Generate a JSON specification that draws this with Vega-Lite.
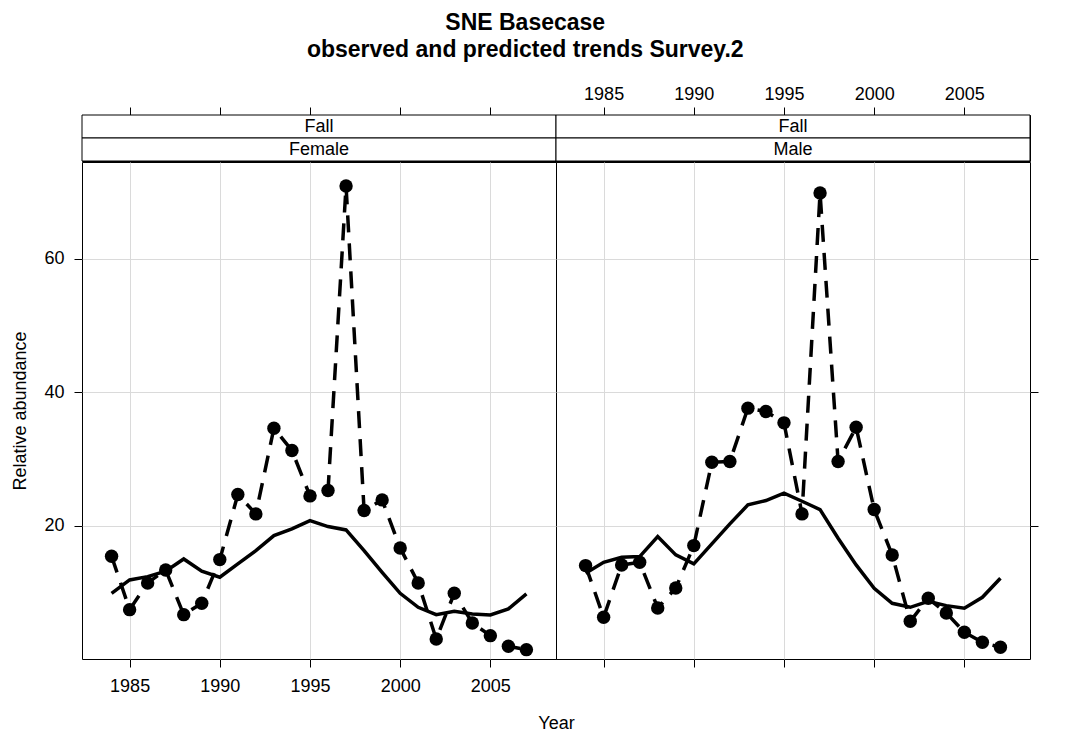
{
  "$schema": "https://vega.github.io/schema/vega-lite/v6.json",
  "background": "white",
  "padding": {"left": 11, "top": 11, "right": 5, "bottom": 5},
  "title": {
    "text": ["SNE Basecase", "observed and predicted trends Survey.2"],
    "font": "Liberation Sans",
    "fontSize": 23,
    "fontWeight": "bold",
    "color": "black",
    "anchor": "middle",
    "lineHeight": 27,
    "offset": 23
  },
  "config": {
    "font": "Liberation Sans",
    "view": {"stroke": "black", "strokeWidth": 1},
    "axis": {
      "labelFont": "Liberation Sans",
      "labelFontSize": 18,
      "labelColor": "black",
      "titleFont": "Liberation Sans",
      "titleFontSize": 18,
      "titleFontWeight": "normal",
      "titleColor": "black",
      "tickColor": "black",
      "tickSize": 8,
      "domain": false,
      "gridColor": "#dadada",
      "gridWidth": 1
    }
  },
  "datasets": {
    "trend": [
      {"sex": "Female", "year": 1984, "obs": 15.4, "pred": 9.85},
      {"sex": "Female", "year": 1985, "obs": 7.4, "pred": 11.85},
      {"sex": "Female", "year": 1986, "obs": 11.4, "pred": 12.35},
      {"sex": "Female", "year": 1987, "obs": 13.35, "pred": 13.15},
      {"sex": "Female", "year": 1988, "obs": 6.65, "pred": 15.0},
      {"sex": "Female", "year": 1989, "obs": 8.35, "pred": 13.15},
      {"sex": "Female", "year": 1990, "obs": 14.9, "pred": 12.25},
      {"sex": "Female", "year": 1991, "obs": 24.65, "pred": 14.25},
      {"sex": "Female", "year": 1992, "obs": 21.75, "pred": 16.25},
      {"sex": "Female", "year": 1993, "obs": 34.6, "pred": 18.5},
      {"sex": "Female", "year": 1994, "obs": 31.25, "pred": 19.5},
      {"sex": "Female", "year": 1995, "obs": 24.45, "pred": 20.75},
      {"sex": "Female", "year": 1996, "obs": 25.25, "pred": 19.85},
      {"sex": "Female", "year": 1997, "obs": 70.9, "pred": 19.35},
      {"sex": "Female", "year": 1998, "obs": 22.25, "pred": 16.25},
      {"sex": "Female", "year": 1999, "obs": 23.85, "pred": 13.0},
      {"sex": "Female", "year": 2000, "obs": 16.65, "pred": 9.85},
      {"sex": "Female", "year": 2001, "obs": 11.4, "pred": 7.75},
      {"sex": "Female", "year": 2002, "obs": 3.0, "pred": 6.65},
      {"sex": "Female", "year": 2003, "obs": 9.85, "pred": 7.15},
      {"sex": "Female", "year": 2004, "obs": 5.4, "pred": 6.75},
      {"sex": "Female", "year": 2005, "obs": 3.5, "pred": 6.6},
      {"sex": "Female", "year": 2006, "obs": 1.9, "pred": 7.5},
      {"sex": "Female", "year": 2007, "obs": 1.4, "pred": 9.75},
      {"sex": "Male", "year": 1984, "obs": 14.0, "pred": 12.85},
      {"sex": "Male", "year": 1985, "obs": 6.25, "pred": 14.5},
      {"sex": "Male", "year": 1986, "obs": 14.1, "pred": 15.25},
      {"sex": "Male", "year": 1987, "obs": 14.5, "pred": 15.35},
      {"sex": "Male", "year": 1988, "obs": 7.65, "pred": 18.35},
      {"sex": "Male", "year": 1989, "obs": 10.65, "pred": 15.6},
      {"sex": "Male", "year": 1990, "obs": 17.0, "pred": 14.25},
      {"sex": "Male", "year": 1991, "obs": 29.5, "pred": 17.25},
      {"sex": "Male", "year": 1992, "obs": 29.6, "pred": 20.25},
      {"sex": "Male", "year": 1993, "obs": 37.6, "pred": 23.1},
      {"sex": "Male", "year": 1994, "obs": 37.1, "pred": 23.75},
      {"sex": "Male", "year": 1995, "obs": 35.4, "pred": 24.85},
      {"sex": "Male", "year": 1996, "obs": 21.75, "pred": 23.65},
      {"sex": "Male", "year": 1997, "obs": 69.85, "pred": 22.4},
      {"sex": "Male", "year": 1998, "obs": 29.6, "pred": 18.1},
      {"sex": "Male", "year": 1999, "obs": 34.75, "pred": 14.1},
      {"sex": "Male", "year": 2000, "obs": 22.4, "pred": 10.6},
      {"sex": "Male", "year": 2001, "obs": 15.6, "pred": 8.35},
      {"sex": "Male", "year": 2002, "obs": 5.65, "pred": 7.75},
      {"sex": "Male", "year": 2003, "obs": 9.1, "pred": 8.65},
      {"sex": "Male", "year": 2004, "obs": 6.9, "pred": 8.0},
      {"sex": "Male", "year": 2005, "obs": 4.0, "pred": 7.6},
      {"sex": "Male", "year": 2006, "obs": 2.5, "pred": 9.25},
      {"sex": "Male", "year": 2007, "obs": 1.75, "pred": 12.1}
    ],
    "stripF": [
      {"row": "1", "label": "Fall"},
      {"row": "2", "label": "Female"}
    ],
    "stripM": [
      {"row": "1", "label": "Fall"},
      {"row": "2", "label": "Male"}
    ]
  },
  "spacing": -2,
  "vconcat": [
    {
      "spacing": 0,
      "bounds": "flush",
      "hconcat": [
        {
          "width": 474,
          "height": 46,
          "layer": [
            {
              "data": {"name": "stripF"},
              "mark": {"type": "rect", "fill": "white", "stroke": "black", "strokeWidth": 1},
              "encoding": {
                "y": {"field": "row", "type": "ordinal", "axis": null, "scale": {"paddingInner": 0, "paddingOuter": 0}}
              }
            },
            {
              "data": {"name": "stripF"},
              "mark": {"type": "text", "fontSize": 18, "font": "Liberation Sans", "color": "black"},
              "encoding": {
                "y": {"field": "row", "type": "ordinal", "axis": null},
                "text": {"field": "label"}
              }
            },
            {
              "data": {"name": "trend"},
              "mark": {"type": "point", "opacity": 0},
              "encoding": {
                "x": {
                  "field": "year", "type": "quantitative",
                  "scale": {"domain": [1982.36, 2008.64], "nice": false, "zero": false},
                  "axis": {"orient": "top", "values": [1985, 1990, 1995, 2000, 2005], "labels": false, "grid": false, "title": null}
                }
              }
            }
          ]
        },
        {
          "width": 474,
          "height": 46,
          "layer": [
            {
              "data": {"name": "stripM"},
              "mark": {"type": "rect", "fill": "white", "stroke": "black", "strokeWidth": 1},
              "encoding": {
                "y": {"field": "row", "type": "ordinal", "axis": null, "scale": {"paddingInner": 0, "paddingOuter": 0}}
              }
            },
            {
              "data": {"name": "stripM"},
              "mark": {"type": "text", "fontSize": 18, "font": "Liberation Sans", "color": "black"},
              "encoding": {
                "y": {"field": "row", "type": "ordinal", "axis": null},
                "text": {"field": "label"}
              }
            },
            {
              "data": {"name": "trend"},
              "mark": {"type": "point", "opacity": 0},
              "encoding": {
                "x": {
                  "field": "year", "type": "quantitative",
                  "scale": {"domain": [1982.36, 2008.64], "nice": false, "zero": false},
                  "axis": {"orient": "top", "values": [1985, 1990, 1995, 2000, 2005], "format": "d", "labels": true, "labelPadding": 4, "grid": false, "title": null}
                }
              }
            }
          ]
        }
      ]
    },
    {
      "spacing": 0,
      "bounds": "flush",
      "hconcat": [
        {
          "width": 474,
          "height": 497,
          "data": {"name": "trend"},
          "transform": [{"filter": "datum.sex === 'Female'"}],
          "encoding": {
            "x": {
              "field": "year", "type": "quantitative",
              "scale": {"domain": [1982.36, 2008.64], "nice": false, "zero": false},
              "axis": {"orient": "bottom", "values": [1985, 1990, 1995, 2000, 2005], "format": "d", "grid": true, "labelPadding": 10, "title": "Year", "titleX": 474, "titleY": 55, "titleAnchor": "middle"}
            }
          },
          "layer": [
            {
              "mark": {"type": "line", "color": "black", "strokeWidth": 3.5},
              "encoding": {
                "y": {"field": "pred", "type": "quantitative", "scale": {"domain": [0, 74.5], "nice": false, "zero": false},
                  "axis": {"orient": "left", "values": [20, 40, 60], "grid": true, "title": "Relative abundance", "labelPadding": 10, "titlePadding": 14}}
              }
            },
            {
              "mark": {"type": "line", "color": "black", "strokeWidth": 3.5, "strokeDash": [17, 11]},
              "encoding": {
                "y": {"field": "obs", "type": "quantitative", "scale": {"domain": [0, 74.5], "nice": false, "zero": false},
                  "axis": {"orient": "left", "values": [20, 40, 60], "grid": true, "title": "Relative abundance", "labelPadding": 10, "titlePadding": 14}}
              }
            },
            {
              "mark": {"type": "point", "filled": true, "color": "black", "opacity": 1, "size": 180},
              "encoding": {
                "y": {"field": "obs", "type": "quantitative", "scale": {"domain": [0, 74.5], "nice": false, "zero": false},
                  "axis": {"orient": "left", "values": [20, 40, 60], "grid": true, "title": "Relative abundance", "labelPadding": 10, "titlePadding": 14}}
              }
            }
          ]
        },
        {
          "width": 474,
          "height": 497,
          "data": {"name": "trend"},
          "transform": [{"filter": "datum.sex === 'Male'"}],
          "encoding": {
            "x": {
              "field": "year", "type": "quantitative",
              "scale": {"domain": [1982.36, 2008.64], "nice": false, "zero": false},
              "axis": {"orient": "bottom", "values": [1985, 1990, 1995, 2000, 2005], "labels": false, "grid": true, "title": null}
            }
          },
          "layer": [
            {
              "mark": {"type": "line", "color": "black", "strokeWidth": 3.5},
              "encoding": {
                "y": {"field": "pred", "type": "quantitative", "scale": {"domain": [0, 74.5], "nice": false, "zero": false},
                  "axis": {"orient": "right", "values": [20, 40, 60], "grid": true, "labels": false, "title": null}}
              }
            },
            {
              "mark": {"type": "line", "color": "black", "strokeWidth": 3.5, "strokeDash": [17, 11]},
              "encoding": {
                "y": {"field": "obs", "type": "quantitative", "scale": {"domain": [0, 74.5], "nice": false, "zero": false},
                  "axis": {"orient": "right", "values": [20, 40, 60], "grid": true, "labels": false, "title": null}}
              }
            },
            {
              "mark": {"type": "point", "filled": true, "color": "black", "opacity": 1, "size": 180},
              "encoding": {
                "y": {"field": "obs", "type": "quantitative", "scale": {"domain": [0, 74.5], "nice": false, "zero": false},
                  "axis": {"orient": "right", "values": [20, 40, 60], "grid": true, "labels": false, "title": null}}
              }
            }
          ]
        }
      ]
    }
  ]
}
